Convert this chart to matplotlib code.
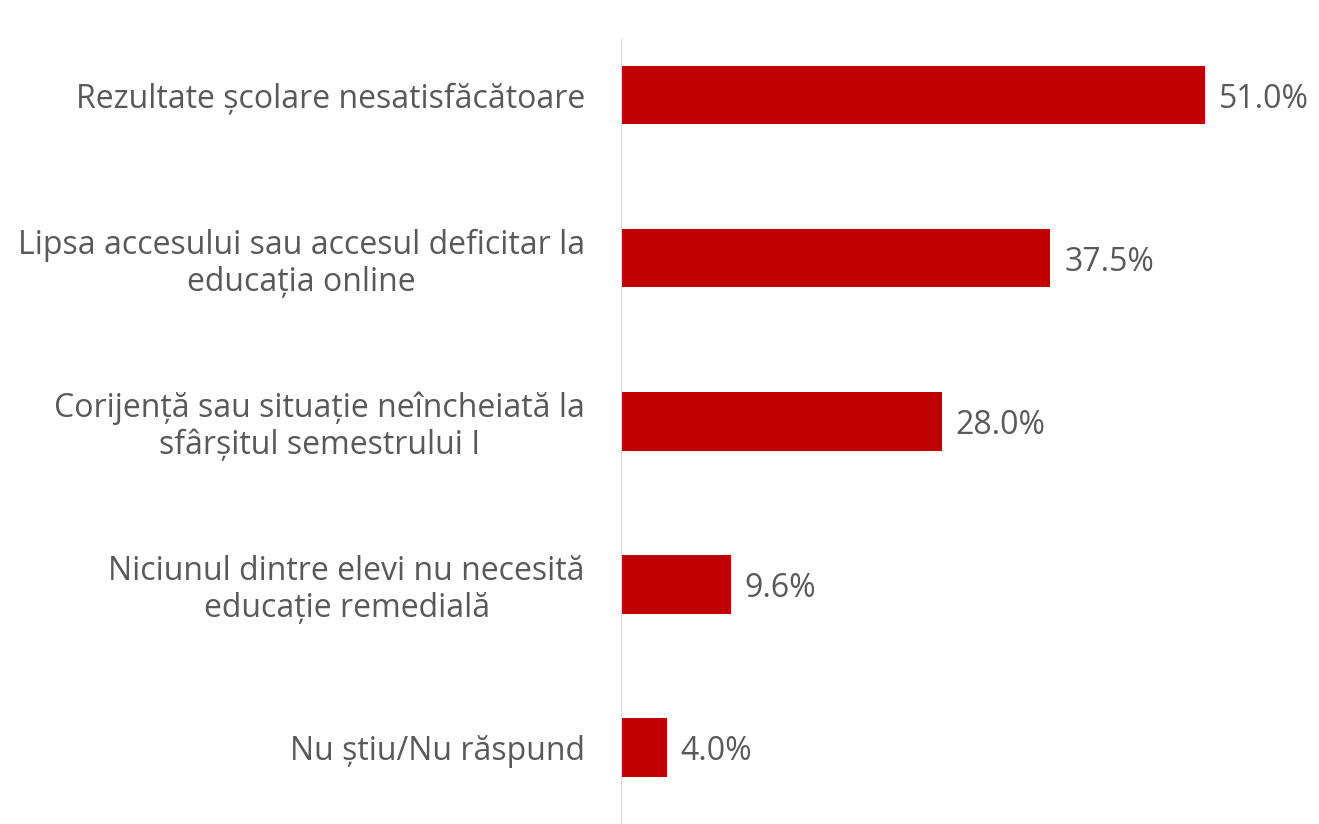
import matplotlib.pyplot as plt

# --- Datos ---
categorias = [
    "Rezultate școlare nesatisfăcătoare",
    "Lipsa accesului sau accesul deficitar la\neducația online",
    "Corijență sau situație neîncheiată la\nsfârșitul semestrului I",
    "Niciunul dintre elevi nu necesită\neducație remedială",
    "Nu știu/Nu răspund",
]
valores = [51.0, 37.5, 28.0, 9.6, 4.0]

ROJO = "#c00000"
GRIS_TEXTO = "#595959"
plt.rcParams['font.family'] = ['Open Sans', 'DejaVu Sans']

fig = plt.figure(figsize=(13.19, 8.24), dpi=100)
ax = fig.add_axes([0.4708, -0.006, 0.5210, 0.9896])

pos = list(range(len(categorias)))[::-1]
ax.barh(pos, valores, height=0.36, color=ROJO)
ax.set_xlim(0, 60)
ax.set_ylim(-0.5, 4.5)

for y, v in zip(pos, valores):
    ax.text(v + 1.2, y, f"{v:.1f}%", va='center_baseline', ha='left',
            fontsize=23, color=GRIS_TEXTO)

ax.set_yticks(pos)
ax.set_yticklabels(categorias, fontsize=23, color=GRIS_TEXTO, linespacing=1.15)
for lbl in ax.get_yticklabels():
    lbl.set_multialignment('center')
ax.tick_params(axis='y', length=0, pad=26)
ax.set_xticks([])

for s in ax.spines.values():
    s.set_visible(False)
ax.axvline(0, ymin=0, ymax=0.967, color="#d9d9d9", lw=1.5)

fig.savefig("out.png", dpi=100)
